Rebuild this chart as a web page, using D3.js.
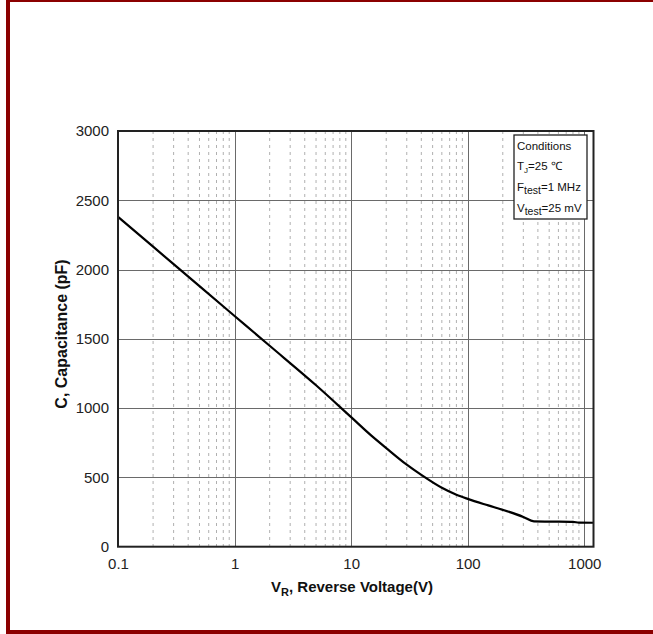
<!DOCTYPE html>
<html>
<head>
<meta charset="utf-8">
<script src="https://cdn.jsdelivr.net/npm/d3@7"></script>
<style>
  html, body { margin: 0; padding: 0; background: #fff; }
  svg { display: block; font-family: "Liberation Sans", Arial, sans-serif; }
</style>
</head>
<body>
<svg id="chart" width="653" height="634"></svg>
<script>
// ---- data ----
const voltage = [0.1, 0.2, 0.5, 1, 2, 5, 10, 15, 20, 30, 40, 60, 80, 100, 150, 200, 300, 370, 500, 800, 900, 1200];
const capacitance = [2380, 2165, 1880, 1665, 1450, 1165, 935, 800, 712, 592, 518, 425, 375, 345, 298, 266, 215, 183, 181, 179, 174, 173];
const xTicks = [0.1, 1, 10, 100, 1000];
const xTickLabels = ["0.1", "1", "10", "100", "1000"];
const yTicks = [0, 500, 1000, 1500, 2000, 2500, 3000];
const conditions = ["Conditions", "T|J|=25 ℃", "F|test|=1 MHz", "V|test|=25 mV"];

const svg = d3.select("#chart");
const W = 653, H = 634;

// page border (dark red)
svg.append("rect").attr("x", 6).attr("y", 0).attr("width", 4).attr("height", H).attr("fill", "#8b0000");
svg.append("rect").attr("x", 6).attr("y", 0).attr("width", W).attr("height", 2).attr("fill", "#8b0000");
svg.append("rect").attr("x", 6).attr("y", 630).attr("width", W).attr("height", 4).attr("fill", "#8b0000");

const L = 118, R = 593.5, T = 131, B = 546.7;
const x = d3.scaleLog().domain([0.1, 1200]).range([L, R]);
const y = d3.scaleLinear().domain([0, 3000]).range([B, T]);

const g = svg.append("g");

// minor vertical dashed grid
const minor = [];
for (let e = -1; e <= 3; e++) {
  for (let m = 2; m <= 9; m++) {
    const v = m * Math.pow(10, e);
    if (v < 1200) minor.push(v);
  }
}
g.selectAll("line.minor").data(minor).enter().append("line")
  .attr("x1", d => x(d)).attr("x2", d => x(d))
  .attr("y1", T).attr("y2", B)
  .attr("stroke", "#b0b0b0").attr("stroke-width", 1)
  .attr("stroke-dasharray", "3,4");

// major grid
g.selectAll("line.vmaj").data(xTicks.slice(1)).enter().append("line")
  .attr("x1", d => Math.round(x(d)) + 0.5).attr("x2", d => Math.round(x(d)) + 0.5)
  .attr("y1", T).attr("y2", B)
  .attr("stroke", "#6a6a6a").attr("stroke-width", 1);
g.selectAll("line.hmaj").data(yTicks.slice(1, -1)).enter().append("line")
  .attr("x1", L).attr("x2", R)
  .attr("y1", d => Math.round(y(d)) + 0.5).attr("y2", d => Math.round(y(d)) + 0.5)
  .attr("stroke", "#6a6a6a").attr("stroke-width", 1);

// curve
const line = d3.line()
  .x((d, i) => x(voltage[i]))
  .y(d => y(d))
  .curve(d3.curveMonotoneX);
g.append("path").datum(capacitance)
  .attr("d", line)
  .attr("fill", "none").attr("stroke", "#000").attr("stroke-width", 2.2);

// frame
g.append("rect").attr("x", L).attr("y", T).attr("width", R - L).attr("height", B - T)
  .attr("fill", "none").attr("stroke", "#222").attr("stroke-width", 2);

// axes (labels only)
const xAxis = d3.axisBottom(x).tickValues(xTicks).tickFormat((d, i) => xTickLabels[i]).tickSize(0).tickPadding(12);
const xa = svg.append("g").attr("transform", `translate(0,${B})`).call(xAxis);
xa.select(".domain").remove();
xa.selectAll("text").attr("font-size", 15).attr("fill", "#222").attr("font-family", "Liberation Sans, Arial, sans-serif");

const yAxis = d3.axisLeft(y).tickValues(yTicks).tickFormat(d3.format("d")).tickSize(0).tickPadding(9);
const ya = svg.append("g").attr("transform", `translate(${L},0)`).call(yAxis);
ya.select(".domain").remove();
ya.selectAll("text").attr("font-size", 15).attr("fill", "#222").attr("font-family", "Liberation Sans, Arial, sans-serif");

// axis titles
const xt = svg.append("text").attr("x", 352).attr("y", 592).attr("text-anchor", "middle")
  .attr("font-size", 15).attr("font-weight", "bold").attr("fill", "#111");
xt.append("tspan").text("V");
xt.append("tspan").attr("font-size", 11).attr("dy", 4).text("R");
xt.append("tspan").attr("dy", -4).text(", Reverse Voltage(V)");

svg.append("text").attr("transform", "translate(67,334) rotate(-90)").attr("text-anchor", "middle")
  .attr("font-size", 16).attr("font-weight", "bold").attr("fill", "#111")
  .text("C, Capacitance (pF)");

// conditions box
svg.append("rect").attr("x", 514).attr("y", 135).attr("width", 73).attr("height", 84)
  .attr("fill", "#fff").attr("stroke", "#222").attr("stroke-width", 1.3);
const lineYs = [150, 170, 191, 212];
conditions.forEach((c, i) => {
  const parts = c.split("|");
  const t = svg.append("text").attr("x", 517).attr("y", lineYs[i]).attr("font-size", 11.5).attr("fill", "#111");
  if (parts.length === 1) { t.text(c); return; }
  t.append("tspan").text(parts[0]);
  t.append("tspan").attr("font-size", parts[1] === "J" ? 8 : 10.5).attr("dy", 3).text(parts[1]);
  t.append("tspan").attr("dy", -3).text(parts[2]);
});
</script>
</body>
</html>
